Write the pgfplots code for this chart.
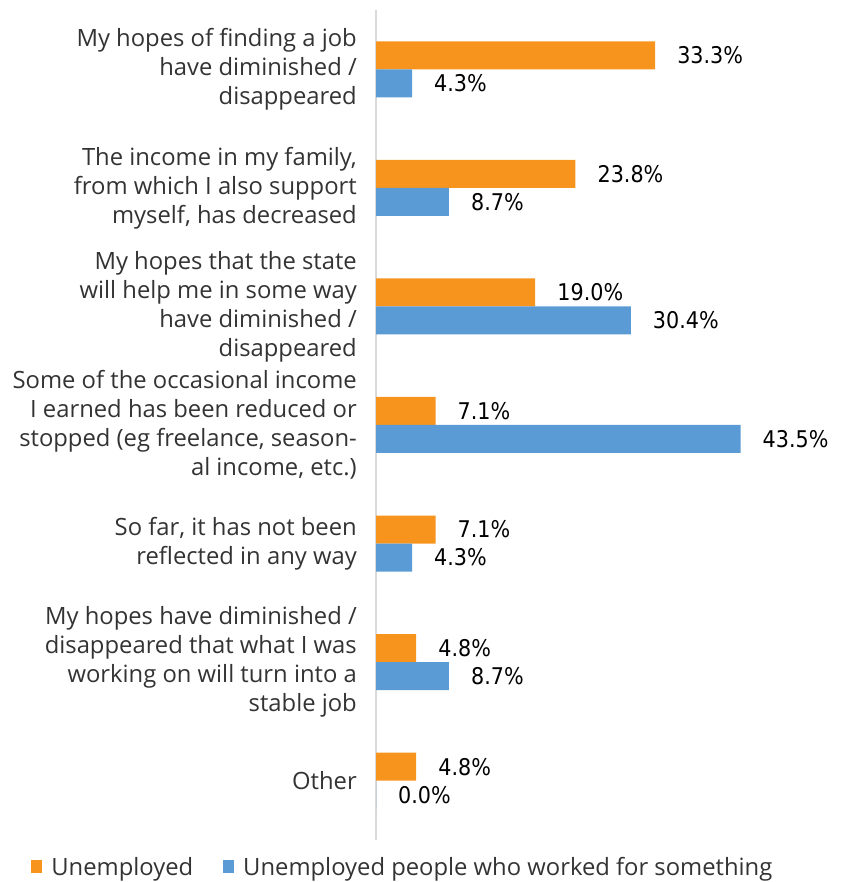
\documentclass[border=0pt]{standalone}
\usepackage{fontspec}
\setmainfont{Open Sans}
\newfontfamily\numfont[FakeStretch=0.9]{DejaVu Sans}
\usepackage{pgfplots}
\pgfplotsset{compat=1.18}
\definecolor{cOrange}{HTML}{F7941D}
\definecolor{cBlue}{HTML}{5B9BD5}
\definecolor{cAxis}{HTML}{D9D9D9}
\definecolor{cText}{HTML}{333333}
\begin{document}
\begin{tikzpicture}
\path[use as bounding box] (0pt,0pt) rectangle (845pt,882pt);
\begin{axis}[
  at={(376pt,42pt)}, anchor=south west,
  scale only axis, width=419pt, height=830pt,
  xmin=0, xmax=50, ymin=-0.5, ymax=6.5,
  enlargelimits=false, clip=false,
  xbar, bar width=28pt,
  axis x line=none, axis y line=left,
  y axis line style={-, draw=cAxis, line width=2pt},
  ytick={0,1,2,3,4,5,6},
  major tick length=0pt,
  yticklabels={
    Other,
    {My hopes have diminished /\\disappeared that what I was\\working on will turn into a\\stable job},
    {So far, it has not been\\reflected in any way},
    {Some of the occasional income\\I earned has been reduced or\\stopped (eg freelance, season-\\al income, etc.)},
    {My hopes that the state\\will help me in some way\\have diminished /\\disappeared},
    {The income in my family,\\from which I also support\\myself, has decreased},
    {My hopes of finding a job\\have diminished /\\disappeared}
  },
  yticklabel style={align=right, anchor=east, inner sep=0pt, xshift=-19pt,
    font=\fontsize{23.8}{29}\selectfont, text=cText},
  /pgf/number format/assume math mode=true,
  nodes near coords={\pgfmathprintnumber[fixed,fixed zerofill,precision=1]{\pgfplotspointmeta}\%},
  every node near coord/.append style={anchor=west, inner sep=0pt, xshift=22pt,
    font=\numfont\fontsize{23}{27}\selectfont, text=black},
  legend style={draw=none, fill=none, at={(-0.823,-0.0325)}, anchor=west,
    legend columns=2, font=\fontsize{23.8}{29}\selectfont, text=cText,
    /tikz/every even column/.append style={column sep=30pt},
    inner sep=0pt, nodes={inner sep=0pt}},
  legend image code/.code={\fill[#1,draw=none] (0pt,-6.5pt) rectangle (11pt,6.5pt); \path (20pt,0pt);},
]
\addplot[fill=cOrange, draw=none, bar shift=14pt] coordinates {
  (33.3,6) (23.8,5) (19.0,4) (7.1,3) (7.1,2) (4.8,1) (4.8,0)};
\addplot[fill=cBlue, draw=none, bar shift=-14pt] coordinates {
  (4.3,6) (8.7,5) (30.4,4) (43.5,3) (4.3,2) (8.7,1) (0.0,0)};
\legend{Unemployed, Unemployed people who worked for something}
\end{axis}
\end{tikzpicture}
\end{document}
